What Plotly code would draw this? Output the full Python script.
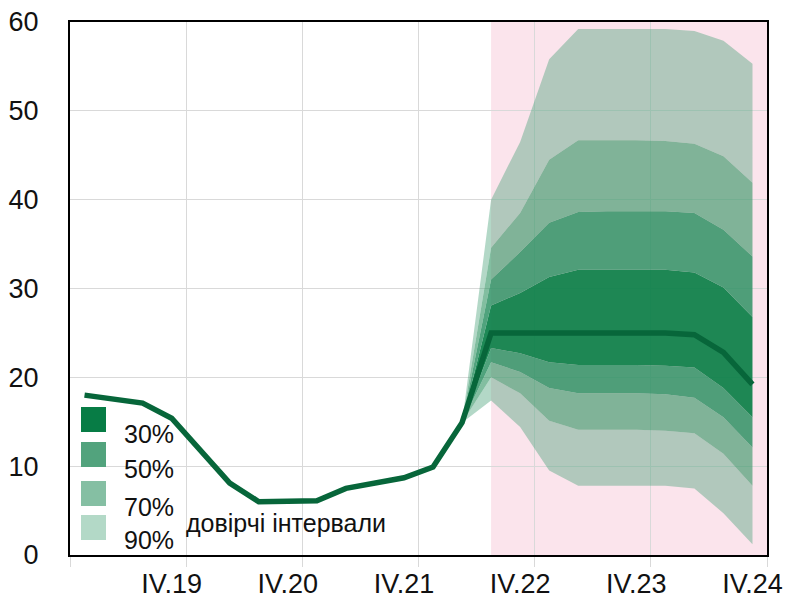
import plotly.graph_objects as go

# ---- data ----
quarters = [f"{q}.{y}" for y in range(19, 25) for q in ["I", "II", "III", "IV"]]
main_line = [18.0, 17.6, 17.1, 15.4, 11.7, 8.1, 6.0, 6.0, 6.1, 7.5, 8.1, 8.7,
             9.9, 14.9, 25.0, 25.0, 25.0, 25.0, 25.0, 25.0, 25.0, 24.8, 22.8, 19.2]

fan_start = 13  # index of II.22, where the fan begins
upper90 = [14.9, 40.0, 46.5, 55.8, 59.2, 59.2, 59.2, 59.2, 59.0, 57.9, 55.3]
upper70 = [14.9, 34.6, 38.5, 44.5, 46.7, 46.7, 46.7, 46.6, 46.3, 44.9, 41.9]
upper50 = [14.9, 31.0, 34.1, 37.4, 38.6, 38.7, 38.7, 38.7, 38.5, 36.6, 33.6]
upper30 = [14.9, 28.1, 29.5, 31.3, 32.1, 32.1, 32.1, 32.1, 31.8, 30.1, 26.8]
lower30 = [14.9, 23.3, 22.7, 21.7, 21.4, 21.4, 21.4, 21.3, 21.1, 18.8, 15.5]
lower50 = [14.9, 21.7, 20.6, 18.8, 18.2, 18.2, 18.2, 18.1, 17.7, 15.5, 12.1]
lower70 = [14.9, 20.0, 18.2, 15.1, 14.1, 14.1, 14.1, 14.0, 13.7, 11.4, 7.8]
lower90 = [14.9, 17.4, 14.4, 9.5, 7.8, 7.8, 7.8, 7.8, 7.5, 4.7, 1.2]

forecast_start = "III.22"
legend_labels = ["30%", "50%", "70%", "90%"]
legend_note = "довірчі інтервали"

# ---- styles ----
band_fill = {
    "90%": "rgba(74,162,121,0.42)",
    "70%": "rgba(47,147,97,0.6)",
    "50%": "rgba(36,140,92,0.8)",
    "30%": "rgba(6,124,68,0.9)",
}
legend_colors = {"30%": "#077c45", "50%": "#52a37d", "70%": "#85bfa3", "90%": "#b3d9c7"}
line_color = "#07663a"
grid_color = "#d9d9d9"
font_family = "Liberation Sans, Arial, sans-serif"

x_all = list(range(len(quarters)))
x_fan = x_all[fan_start:]

fig = go.Figure()

band_seq = [
    (lower90, None),
    (lower70, "90%"),
    (lower50, "70%"),
    (lower30, "50%"),
    (upper30, "30%"),
    (upper50, "50%"),
    (upper70, "70%"),
    (upper90, "90%"),
]
for vals, key in band_seq:
    fig.add_trace(go.Scatter(
        x=x_fan, y=vals, mode="lines",
        line=dict(width=0, color="rgba(0,0,0,0)"),
        fill=None if key is None else "tonexty",
        fillcolor=None if key is None else band_fill[key],
        hoverinfo="skip", showlegend=False,
    ))

fig.add_trace(go.Scatter(
    x=x_all, y=main_line, mode="lines",
    line=dict(width=5.5, color=line_color),
    showlegend=False,
))

# forecast shading
fig.add_shape(type="rect", xref="x", yref="paper",
              x0=quarters.index(forecast_start), x1=len(quarters) - 0.5, y0=0, y1=1,
              fillcolor="#fbe4ec", line=dict(width=0), layer="below")

# page has an 8px body margin: figure is drawn smaller and shifted
PAGE_OFF = 8
FIG_W, FIG_H = 791 - PAGE_OFF, 600 - PAGE_OFF

# custom legend (positions in screen pixels, converted to paper coords)
sq_top = [407, 442, 481, 515]
lab_y = [434, 469, 507, 540]
plot_l, plot_r, plot_t, plot_b = 70, 767, 22, 555
W = plot_r - plot_l
H = plot_b - plot_t
def px(x):
    return (x - plot_l) / W
def py(y):
    return (plot_b - y) / H
for lab, top, ly in zip(legend_labels, sq_top, lab_y):
    fig.add_shape(type="rect", xref="paper", yref="paper",
                  x0=px(81), x1=px(106), y0=py(top + 25), y1=py(top),
                  fillcolor=legend_colors[lab], line=dict(width=0), layer="above")
    fig.add_annotation(xref="paper", yref="paper", x=px(122), y=py(ly),
                       text=lab, showarrow=False, xanchor="left", yanchor="middle",
                       font=dict(size=25, color="#111111", family=font_family))
fig.add_annotation(xref="paper", yref="paper", x=px(184), y=py(523),
                   text=legend_note, showarrow=False, xanchor="left", yanchor="middle",
                   font=dict(size=25, color="#111111", family=font_family))

tick_idx = [i for i, q in enumerate(quarters) if q.startswith("IV.")]
boundaries = [-0.5] + [i + 0.5 for i in tick_idx]

fig.update_layout(
    width=FIG_W, height=FIG_H, autosize=False,
    margin=dict(l=plot_l - PAGE_OFF, r=791 - plot_r, t=plot_t - PAGE_OFF,
                b=600 - plot_b, pad=0, autoexpand=False),
    paper_bgcolor="white", plot_bgcolor="white",
    font=dict(family=font_family, color="#111111"),
    xaxis=dict(
        range=[-0.5, len(quarters) - 0.5], automargin=False,
        tickmode="array", tickvals=tick_idx, ticktext=[quarters[i] for i in tick_idx],
        showgrid=False, ticks="", zeroline=False,
        tickfont=dict(size=27, family=font_family, color="#111111"),
        showline=True, linecolor="black", linewidth=2, mirror=True,
        ticklabelstandoff=4, ticklabeloverflow="allow",
        minor=dict(tickmode="array", tickvals=boundaries, showgrid=True,
                   gridcolor=grid_color, gridwidth=1, ticks="outside",
                   ticklen=10, tickcolor=grid_color, tickwidth=1),
    ),
    yaxis=dict(
        range=[0, 60], tickmode="linear", tick0=0, dtick=10, automargin=False,
        showgrid=True, gridcolor=grid_color, gridwidth=1, zeroline=False,
        ticks="", tickfont=dict(size=27, family=font_family, color="#111111"),
        showline=True, linecolor="black", linewidth=2, mirror=True,
        ticklabelstandoff=24, ticklabeloverflow="allow",
    ),
)

fig.write_html("out.html")
